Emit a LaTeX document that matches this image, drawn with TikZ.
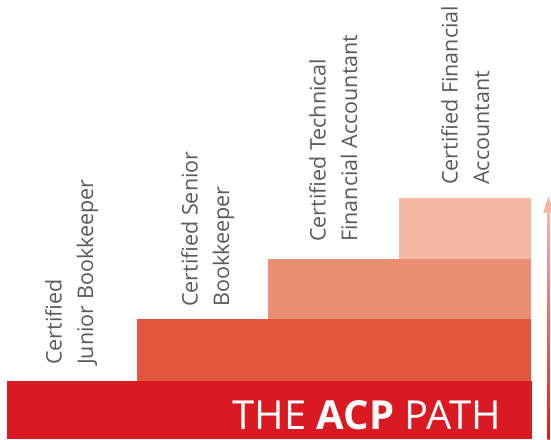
\documentclass[tikz,border=0pt]{standalone}
\usepackage{fontspec}
\setmainfont{Open Sans}
\definecolor{acpred}{HTML}{DA1A22}
\definecolor{steptwo}{HTML}{E0553C}
\definecolor{stepthree}{HTML}{EA8F74}
\definecolor{stepfour}{HTML}{F4B8A3}
\definecolor{labelgray}{HTML}{5A5A5A}
\tikzset{
	rank/.style={rotate=90, anchor=north west, inner sep=0pt, align=left, text=labelgray, font=\fontsize{21.5}{31.5}\selectfont},
}
\begin{document}
\begin{tikzpicture}[x=1pt, y=1pt]
	\useasboundingbox (0,0) rectangle (551,439);
	\fill[acpred] (7,0) rectangle (532,58);
	\fill[steptwo] (137,58) rectangle (531,120);
	\fill[stepthree] (268,120) rectangle (531,180);
	\fill[stepfour] (399,180) rectangle (531,241);
	\node[rank] (junior) at (45,74) {Certified\\Junior Bookkeeper};
	\node[rank] (senior) at (181,132) {Certified Senior\\Bookkeeper};
	\node[rank] (technical) at (309,197) {Certified Technical\\Financial Accountant};
	\node[rank] (financial) at (441,254) {Certified Financial\\Accountant};
	\node[anchor=base east, inner sep=0pt, text=white, font=\fontsize{40}{42}\selectfont] (path) at (501,10) {THE \textbf{ACP} PATH};
	\shade[bottom color=acpred, top color=stepfour] (547.5,0) rectangle (549.5,226);
	\fill[stepfour] (543,226) -- (548.5,243) -- (554,226) -- cycle;
\end{tikzpicture}
\end{document}
